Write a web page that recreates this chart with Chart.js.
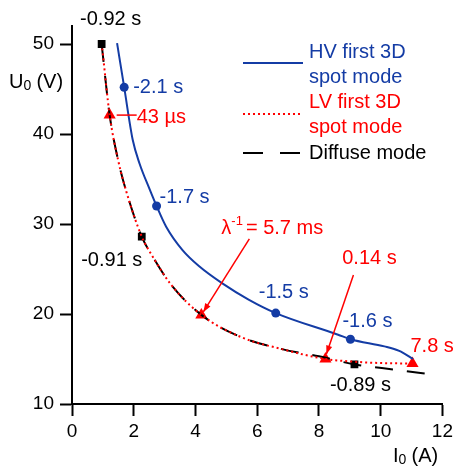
<!DOCTYPE html>
<html>
<head>
<meta charset="utf-8">
<script src="https://cdn.jsdelivr.net/npm/chart.js@4.4.0/dist/chart.umd.min.js"></script>
<style>
  html, body { margin: 0; padding: 0; background: #fff; }
</style>
</head>
<body>
<canvas id="chart" width="457" height="468"></canvas>
<script>
// HV first 3D spot mode (blue)
const hvCurveI = [1.46, 1.69, 1.97, 2.19, 2.51, 2.74, 3.05, 3.58, 4.12, 4.87, 5.72, 6.6, 8.62, 9.02, 10.12, 10.6, 11.05];
const hvCurveU = [50.1, 45.2, 39.3, 36.7, 33.9, 32.0, 29.7, 27.1, 25.3, 23.4, 21.6, 20.1, 17.7, 17.2, 16.4, 15.9, 15.0];
const hvPointI = [1.69, 2.74, 6.6, 9.02];
const hvPointU = [45.2, 32.0, 20.1, 17.2];
const hvLabels = ['-2.1 s', '-1.7 s', '-1.5 s', '-1.6 s'];

// LV first 3D spot mode (red)
const lvCurveI = [0.98, 1.22, 1.5, 1.76, 2.26, 2.61, 3.2, 4.19, 5.5, 6.8, 8.21, 9.15, 10.0, 11.03];
const lvCurveU = [49.5, 42.1, 37.0, 33.6, 28.6, 26.4, 23.3, 19.9, 17.4, 16.1, 15.0, 14.7, 14.55, 14.5];
const lvPointI = [1.22, 4.19, 8.21, 11.03];
const lvPointU = [42.1, 19.9, 15.0, 14.5];
const lvLabels = ['43 \u00b5s', '= 5.7 ms', '0.14 s', '7.8 s'];

// Diffuse mode (black)
const dfCurveI = [0.96, 1.22, 1.5, 1.76, 2.26, 2.61, 3.2, 4.19, 5.5, 6.8, 8.0, 9.15, 10.5, 11.6];
const dfCurveU = [50.0, 42.1, 37.0, 33.6, 28.6, 26.4, 23.3, 19.9, 17.4, 16.1, 15.3, 14.4, 13.8, 13.3];
const dfPointI = [0.96, 2.26, 9.15];
const dfPointU = [50.0, 28.6, 14.4];
const dfLabels = ['-0.92 s', '-0.91 s', '-0.89 s'];

const xTicks = [0, 2, 4, 6, 8, 10, 12];
const yTicks = [10, 20, 30, 40, 50];

const BLUE = 'rgb(20, 60, 165)';
const RED = 'rgb(255, 0, 0)';
const FONT = '"Liberation Sans", Arial, sans-serif';

function toXY(xs, ys) {
    return xs.map((x, i) => ({x: x, y: ys[i]}));
}

function text(ctx, s, x, y, color, size, align) {
    ctx.font = size + 'px ' + FONT;
    ctx.fillStyle = color;
    ctx.textAlign = align || 'center';
    ctx.textBaseline = 'middle';
    ctx.fillText(s, x, y);
}

function arrow(ctx, x1, y1, x2, y2, color, head) {
    ctx.strokeStyle = color;
    ctx.fillStyle = color;
    ctx.lineWidth = 1.5;
    ctx.setLineDash([]);
    ctx.beginPath();
    ctx.moveTo(x1, y1);
    ctx.lineTo(x2, y2);
    ctx.stroke();
    if (head) {
        let a = Math.atan2(y2 - y1, x2 - x1);
        ctx.beginPath();
        ctx.moveTo(x2, y2);
        ctx.lineTo(x2 - 9 * Math.cos(a - 0.35), y2 - 9 * Math.sin(a - 0.35));
        ctx.lineTo(x2 - 9 * Math.cos(a + 0.35), y2 - 9 * Math.sin(a + 0.35));
        ctx.closePath();
        ctx.fill();
    }
}

// labels, arrows, legend and axis titles
const annotations = {
    id: 'annotations',
    afterDraw(chart) {
        let ctx = chart.ctx;
        let sx = chart.scales.x, sy = chart.scales.y;
        let px = (x) => sx.getPixelForValue(x);
        let py = (y) => sy.getPixelForValue(y);
        ctx.save();

        // black point labels
        let dfOff = [[9, -25], [-30, 24], [6, 21]];
        dfLabels.forEach((s, i) => {
            text(ctx, s, px(dfPointI[i]) + dfOff[i][0], py(dfPointU[i]) + dfOff[i][1], '#000', 20);
        });

        // blue point labels
        let hvOff = [[34, 0], [28, -9], [8, -21], [17, -18]];
        hvLabels.forEach((s, i) => {
            text(ctx, s, px(hvPointI[i]) + hvOff[i][0], py(hvPointU[i]) + hvOff[i][1], BLUE, 20);
        });

        // red labels with arrows
        let t0x = px(lvPointI[0]), t0y = py(lvPointU[0]);
        arrow(ctx, t0x + 27, t0y, t0x + 7, t0y, RED, false);
        text(ctx, lvLabels[0], t0x + 27, t0y + 2, RED, 20, 'left');

        let t1x = px(lvPointI[1]), t1y = py(lvPointU[1]);
        let l1x = t1x + 20, l1y = t1y - 86;
        ctx.font = '20px ' + FONT;
        let wLam = ctx.measureText('\u03bb').width;
        ctx.font = '13px ' + FONT;
        let wSup = ctx.measureText('-1').width;
        text(ctx, '\u03bb', l1x, l1y, RED, 20, 'left');
        text(ctx, '-1', l1x + wLam, l1y - 7, RED, 13, 'left');
        text(ctx, lvLabels[1], l1x + wLam + wSup + 3, l1y, RED, 20, 'left');
        arrow(ctx, t1x + 48, t1y - 76, t1x + 2, t1y - 3, RED, true);

        let t2x = px(lvPointI[2]), t2y = py(lvPointU[2]);
        text(ctx, lvLabels[2], t2x + 44, t2y - 101, RED, 20);
        arrow(ctx, t2x + 28, t2y - 84, t2x + 1, t2y - 5, RED, true);

        let t3x = px(lvPointI[3]), t3y = py(lvPointU[3]);
        text(ctx, lvLabels[3], t3x - 2, t3y - 17, RED, 20, 'left');

        // legend
        let lx = 243, tx = 309;
        ctx.lineWidth = 2;
        ctx.strokeStyle = BLUE;
        ctx.setLineDash([]);
        ctx.beginPath(); ctx.moveTo(lx, 63); ctx.lineTo(lx + 60, 63); ctx.stroke();
        text(ctx, 'HV first 3D', tx, 52, BLUE, 20, 'left');
        text(ctx, 'spot mode', tx, 77, BLUE, 20, 'left');
        ctx.strokeStyle = RED;
        ctx.setLineDash([2, 3]);
        ctx.beginPath(); ctx.moveTo(lx, 114); ctx.lineTo(lx + 60, 114); ctx.stroke();
        text(ctx, 'LV first 3D', tx, 102, RED, 20, 'left');
        text(ctx, 'spot mode', tx, 127, RED, 20, 'left');
        ctx.strokeStyle = '#000';
        ctx.setLineDash([20, 17]);
        ctx.beginPath(); ctx.moveTo(lx, 153); ctx.lineTo(lx + 58, 153); ctx.stroke();
        text(ctx, 'Diffuse mode', tx, 153, '#000', 20, 'left');
        ctx.setLineDash([]);

        // axis titles
        ctx.font = '20px ' + FONT;
        let wU = ctx.measureText('U').width;
        text(ctx, 'U', 9, 82, '#000', 20, 'left');
        text(ctx, '0', 9 + wU, 86, '#000', 14, 'left');
        text(ctx, '(V)', 9 + wU + 13, 82, '#000', 20, 'left');
        let wI = ctx.measureText('I').width;
        text(ctx, 'I', 393, 456, '#000', 20, 'left');
        text(ctx, '0', 393 + wI, 460, '#000', 14, 'left');
        text(ctx, '(A)', 393 + wI + 13, 456, '#000', 20, 'left');

        ctx.restore();
    }
};

const config = {
    type: 'scatter',
    data: {
        datasets: [
            {
                label: 'LV first 3D spot mode',
                data: toXY(lvCurveI, lvCurveU),
                showLine: true,
                borderColor: RED,
                borderWidth: 2,
                borderDash: [2, 3],
                pointRadius: 0,
                cubicInterpolationMode: 'monotone'
            },
            {
                label: 'Diffuse mode',
                data: toXY(dfCurveI, dfCurveU),
                showLine: true,
                borderColor: '#000',
                borderWidth: 2,
                borderDash: [18, 14],
                pointRadius: 0,
                cubicInterpolationMode: 'monotone'
            },
            {
                label: 'HV first 3D spot mode',
                data: toXY(hvCurveI, hvCurveU),
                showLine: true,
                borderColor: BLUE,
                borderWidth: 2,
                pointRadius: 0,
                cubicInterpolationMode: 'monotone'
            },
            {
                label: 'HV points',
                data: toXY(hvPointI, hvPointU),
                pointStyle: 'circle',
                pointRadius: 4.5,
                backgroundColor: BLUE,
                borderColor: BLUE,
                borderWidth: 0
            },
            {
                label: 'LV points',
                data: toXY(lvPointI, lvPointU),
                pointStyle: 'triangle',
                pointRadius: 7,
                backgroundColor: RED,
                borderColor: RED,
                borderWidth: 0
            },
            {
                label: 'Diffuse points',
                data: toXY(dfPointI, dfPointU),
                pointStyle: 'rect',
                pointRadius: 5.5,
                backgroundColor: '#000',
                borderColor: '#000',
                borderWidth: 0
            }
        ]
    },
    options: {
        responsive: false,
        animation: false,
        devicePixelRatio: 1,
        layout: {padding: {top: 26, right: 12, left: 0, bottom: 0}},
        plugins: {
            legend: {display: false},
            tooltip: {enabled: false}
        },
        scales: {
            x: {
                type: 'linear',
                min: 0,
                max: 12,
                afterBuildTicks: (s) => { s.ticks = xTicks.map(v => ({value: v})); },
                afterFit: (s) => { s.height = 64; },
                ticks: {color: '#000', font: {family: FONT, size: 19}, padding: 4},
                grid: {drawOnChartArea: false, drawTicks: true, tickLength: 12, tickColor: '#000', tickWidth: 2},
                border: {color: '#000', width: 2}
            },
            y: {
                type: 'linear',
                min: 10,
                max: 52,
                afterBuildTicks: (s) => { s.ticks = yTicks.map(v => ({value: v})); },
                afterFit: (s) => { s.width = 72; },
                ticks: {color: '#000', font: {family: FONT, size: 19}, padding: 6},
                grid: {drawOnChartArea: false, drawTicks: true, tickLength: 12, tickColor: '#000', tickWidth: 2},
                border: {color: '#000', width: 2}
            }
        }
    },
    plugins: [annotations]
};

new Chart(document.getElementById('chart'), config);
</script>
</body>
</html>
